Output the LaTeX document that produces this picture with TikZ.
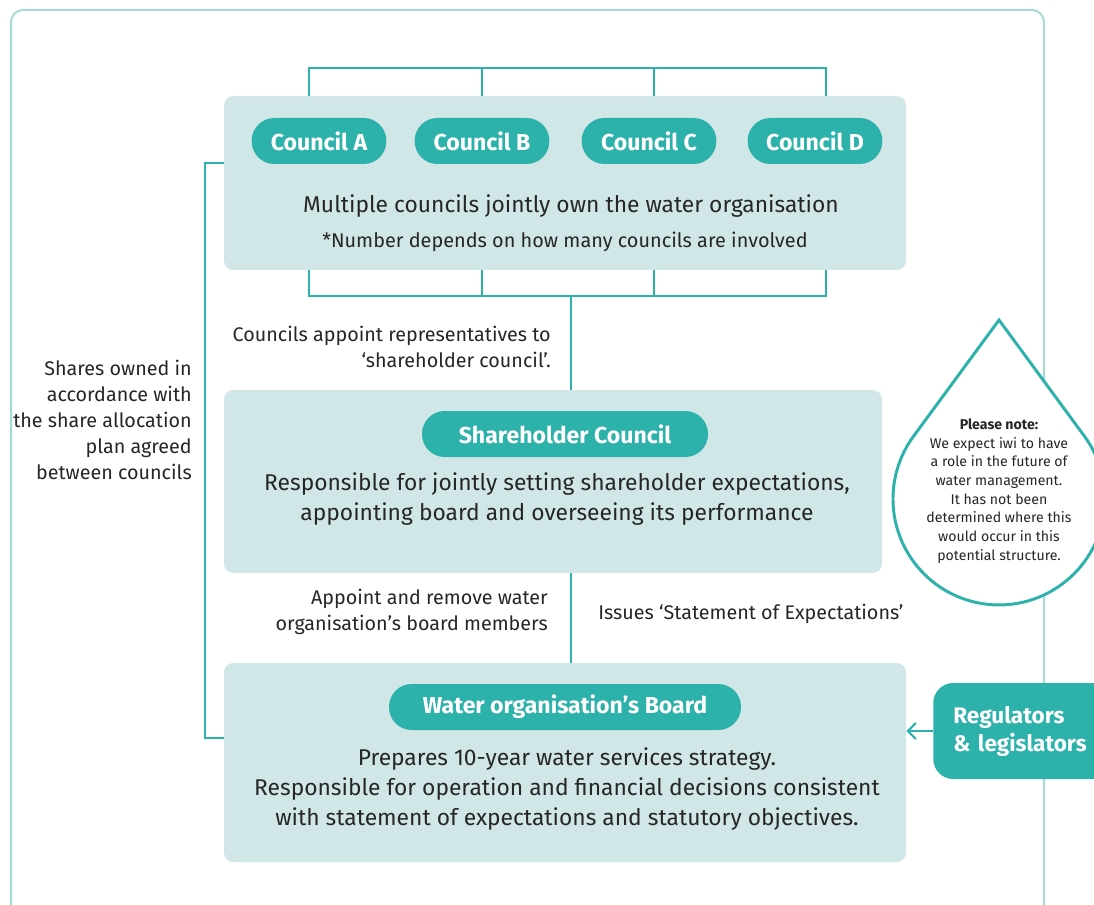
\documentclass[tikz,border=0pt]{standalone}
\usepackage{fontspec}
\setmainfont{Fira Sans}
\usetikzlibrary{arrows.meta}
\definecolor{waterteal}{HTML}{2CB1AB}
\definecolor{panelblue}{HTML}{D1E7E7}
\definecolor{framegrey}{HTML}{A9D9D7}
\definecolor{inkgrey}{HTML}{262626}

\begin{document}
\begin{tikzpicture}[x=0.75pt,y=-0.75pt,
  panel/.style={fill=panelblue,rounded corners=7pt,inner sep=0pt},
  pill/.style={fill=waterteal,text=white,font=\fontsize{17.3}{20}\selectfont\bfseries,rounded corners=17pt,minimum height=34.5pt,inner sep=0pt},
  link/.style={draw=waterteal,line width=1.6pt},
  body/.style={text=inkgrey,font=\fontsize{17.1}{22.7}\selectfont,align=center,inner sep=0pt},
  side/.style={text=inkgrey,font=\fontsize{14.8}{19.5}\selectfont,inner sep=0pt}]
\useasboundingbox (0,0) rectangle (1094,905);
\clip (0,0) rectangle (1094,905);
\draw[framegrey,line width=1.5pt,rounded corners=9pt] (11,10) rectangle (1044,930);

% owning councils
\node[panel,minimum width=511.5pt,minimum height=130.5pt] (owners) at (565,183) {};
\node[pill,minimum width=101pt] (councilA) at (319,141) {Council A};
\node[pill,minimum width=101pt] (councilB) at (482,141) {Council B};
\node[pill,minimum width=101pt] (councilC) at (649,141) {Council C};
\node[pill,minimum width=101pt] (councilD) at (815,141) {Council D};
\node[body] (ownText) at (571,206) {Multiple councils jointly own the water organisation};
\node[body,font=\fontsize{14.9}{17}\selectfont] (ownNote) at (565,242) {*Number depends on how many councils are involved};

\coordinate (topA) at (309,68);
\coordinate (topB) at (482,68);
\coordinate (topC) at (654,68);
\coordinate (topD) at (826,68);
\draw[link] (topA |- owners.north) -- (topA) -- (topD) -- (topD |- owners.north);
\draw[link] (topB) -- (topB |- owners.north);
\draw[link] (topC) -- (topC |- owners.north);

\coordinate (botA) at (309,296);
\coordinate (botB) at (482,296);
\coordinate (botC) at (654,296);
\coordinate (botD) at (826,296);
\draw[link] (botA |- owners.south) -- (botA) -- (botD) -- (botD |- owners.south);
\draw[link] (botB) -- (botB |- owners.south);
\draw[link] (botC) -- (botC |- owners.south);

% shareholder council
\node[panel,minimum width=493.5pt,minimum height=137.25pt] (shareholders) at (553,481.5) {};
\node[pill,minimum width=214.5pt] (shareTitle) at (565,434) {Shareholder Council};
\node[body] (shareText) at (557,499) {Responsible for jointly setting shareholder expectations,\\appointing board and overseeing its performance};

\coordinate (repLink) at (571,296);
\draw[link] (repLink) -- (repLink |- shareholders.north);
\node[side,anchor=east,align=right] (repText) at (551,347) {Councils appoint representatives to\\‘shareholder council’.};

% board
\node[panel,minimum width=511.5pt,minimum height=149.25pt] (board) at (565,762.5) {};
\node[pill,minimum width=264pt] (boardTitle) at (565,707) {Water organisation’s Board};
\node[body] (boardText) at (567,789) {Prepares 10-year water services strategy.\\Responsible for operation and financial decisions consistent\\with statement of expectations and statutory objectives.};

\draw[link] (shareholders.south -| repLink) -- (board.north -| repLink);
\node[side,anchor=east,align=right] (appointText) at (548,612) {Appoint and remove water\\organisation’s board members};
\node[side,anchor=west] (issueText) at (598,614) {Issues ‘Statement of Expectations’};

% share allocation
\coordinate (shareTop) at (205,163);
\coordinate (shareBot) at (205,738);
\draw[link] (shareTop -| owners.west) -- (shareTop) -- (shareBot) -- (shareBot -| board.west);
\node[side,anchor=east,align=right] (allocText) at (192,420) {Shares owned in\\accordance with\\the share allocation\\plan agreed\\between councils};

% note and regulators
\coordinate (dropTip) at (999,320);
\draw[waterteal,line width=2.2pt,fill=white] (dropTip) -- (1084.4,436.2) arc[start angle=-36.3,end angle=216.3,radius=106] -- cycle;
\node[text=inkgrey,font=\fontsize{10.6}{14}\selectfont,align=center,inner sep=0pt] (note) at (999,491) {\textbf{Please note:}\\We expect iwi to have\\a role in the future of\\water management.\\It has not been\\determined where this\\would occur in this\\potential structure.};

\node[fill=waterteal,rounded corners=15pt,text=white,font=\fontsize{16.9}{21}\selectfont\bfseries,align=left,anchor=west,minimum height=72pt,text width=112pt,inner xsep=15pt] (regulators) at (933,731) {Regulators\\\& legislators};
\draw[link,-{Straight Barb[length=6pt,width=12pt]}] (regulators.west) -- (regulators.west -| board.east);
\end{tikzpicture}
\end{document}
